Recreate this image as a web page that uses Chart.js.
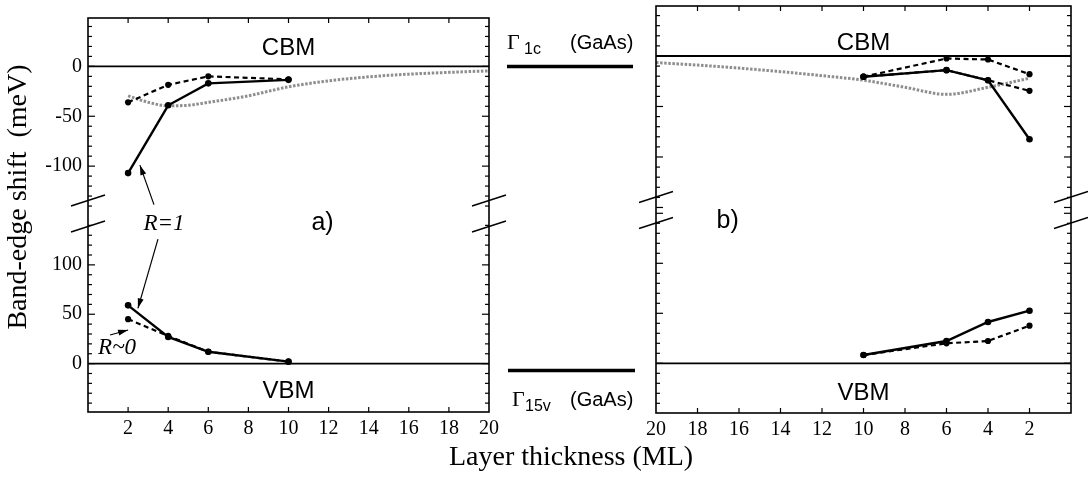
<!DOCTYPE html>
<html><head><meta charset="utf-8">
<script src="https://cdn.jsdelivr.net/npm/chart.js@4.4.1/dist/chart.umd.min.js"></script>
<style>
html,body{margin:0;padding:0;background:#fff;}
#wrap{position:relative;width:1088px;height:477px;overflow:hidden;background:#fff;}
#wrap canvas{position:absolute;left:0;top:0;}
</style></head><body>
<div id="wrap"><canvas id="ca" width="1088" height="477"></canvas><canvas id="cb" width="1088" height="477"></canvas></div>
<script>
// ---------------- data ----------------
const xTicksA = [2,4,6,8,10,12,14,16,18,20];
const xTicksB = [20,18,16,14,12,10,8,6,4,2];
const yTicksCBM = [0,-50,-100];
const yTicksVBM = [100,50,0];
const refX = [0,20];
const refY = [0,0];
// panel a)
const layersA = [2,4,6,10];
const cbmA_R1 = [-107,-39,-17,-13.5];
const cbmA_R0 = [-36,-18.5,-10,-13];
const vbmA_R1 = [59,27,12,2];
const vbmA_R0 = [45,28,12,2];
const grayXA = [2,3,4,5,6,7,8,10,12,14,16,18,20];
const grayA  = [-29.5,-36,-39.5,-39,-36,-33,-29.5,-20.5,-14.5,-10.5,-7.8,-6,-4.5];
// panel b)
const layersB = [10,6,4,2];
const cbmB_R1  = [-20.5,-14,-24,-82.5];
const cbmB_R0  = [-20.5,-2.5,-3.5,-18];
const cbmB_R0b = [-20.5,-14,-24,-34.5];
const vbmB_R1 = [8.3,22.3,41.3,52.6];
const vbmB_R0 = [8.3,20,22.3,37.6];
const grayXB = [20,18,16,14,12,10,8,6,4,2];
const grayB  = [-6.5,-9,-12,-15.5,-19.5,-24,-31,-38,-31,-22];

// ---------------- helpers ----------------
const pts = (xs, ys) => xs.map((x,i)=>({x:x, y:ys[i]}));
const SERIF = '"Liberation Serif", "DejaVu Serif", serif';
const SANS = '"Liberation Sans", Arial, sans-serif';

function solid(xs, ys, yid){ return {data:pts(xs,ys), yAxisID:yid, borderColor:'#000', borderWidth:2.4,
  pointRadius:3.3, pointBackgroundColor:'#000', pointBorderWidth:0, tension:0, fill:false}; }
function dashed(xs, ys, yid){ return {data:pts(xs,ys), yAxisID:yid, borderColor:'#000', borderWidth:2.2, borderDash:[5,3.5],
  pointRadius:3.1, pointBackgroundColor:'#000', pointBorderWidth:0, tension:0, fill:false}; }
function gray(xs, ys, yid){ return {data:pts(xs,ys), yAxisID:yid, borderColor:'#8e8e8e', borderWidth:3, borderDash:[2.5,1.6],
  pointRadius:0, tension:0.4, cubicInterpolationMode:'monotone', fill:false}; }
function ref(yid){ return {data:pts(refX,refY), yAxisID:yid, borderColor:'#000', borderWidth:1.8, pointRadius:0, fill:false}; }

function line(ctx,x1,y1,x2,y2){ ctx.beginPath(); ctx.moveTo(x1,y1); ctx.lineTo(x2,y2); ctx.stroke(); }

const framePlugin = {
  id:'frame',
  afterDatasetsDraw(chart){
    const ctx = chart.ctx, a = chart.chartArea;
    ctx.save();
    ctx.strokeStyle = '#000';
    ctx.lineWidth = 1.6;
    ctx.strokeRect(a.left, a.top, a.right-a.left, a.bottom-a.top);
    ctx.lineWidth = 1.2;
    ['yC','yV'].forEach(id=>{
      const s = chart.scales[id];
      for(let v = Math.ceil(s.min/10)*10; v <= s.max; v += 10){
        const p = s.getPixelForValue(v);
        if(p < s.top+2 || p > s.bottom-2) continue;
        const L = (v % 50 === 0) ? 7 : 4;
        line(ctx, a.left, p, a.left+L, p);
        line(ctx, a.right, p, a.right-L, p);
      }
    });
    const sx = chart.scales.x;
    for(let v = 2; v < 20; v += 2){
      const p = sx.getPixelForValue(v);
      line(ctx, p, a.bottom, p, a.bottom-5);
      line(ctx, p, a.top, p, a.top+5);
    }
    // axis-break slashes
    const yb = chart.scales.yC.bottom;
    ctx.lineWidth = 1.4;
    [a.left, a.right].forEach(xe=>{
      [-13, 13].forEach(d=>{ line(ctx, xe-17, yb+d+5.5, xe+17, yb+d-5.5); });
    });
    ctx.restore();
  }
};

function txt(ctx, s, x, y, font, align, base){
  ctx.font = font; ctx.textAlign = align || 'center'; ctx.textBaseline = base || 'middle';
  ctx.fillText(s, x, y);
}
function arrow(ctx, x1,y1,x2,y2){
  ctx.lineWidth = 1.2;
  line(ctx,x1,y1,x2,y2);
  const ang = Math.atan2(y2-y1, x2-x1), L = 10, W = 3;
  ctx.beginPath();
  ctx.moveTo(x2,y2);
  ctx.lineTo(x2 - L*Math.cos(ang) + W*Math.sin(ang), y2 - L*Math.sin(ang) - W*Math.cos(ang));
  ctx.lineTo(x2 - L*Math.cos(ang) - W*Math.sin(ang), y2 - L*Math.sin(ang) + W*Math.cos(ang));
  ctx.closePath(); ctx.fill();
}

const textA = {
  id:'textA',
  afterDraw(chart){
    const ctx = chart.ctx, a = chart.chartArea, sx = chart.scales.x, yC = chart.scales.yC, yV = chart.scales.yV;
    ctx.save();
    ctx.fillStyle = '#000'; ctx.strokeStyle = '#000';
    // axis titles
    ctx.save(); ctx.translate(19, 197); ctx.rotate(-Math.PI/2);
    txt(ctx, 'Band-edge shift  (meV)', 0, 0, '28px '+SERIF);
    ctx.restore();
    txt(ctx, 'Layer thickness (ML)', 571, 458, '28px '+SERIF);
    // band labels
    txt(ctx, 'CBM', sx.getPixelForValue(10), yC.getPixelForValue(18), '24px '+SANS);
    txt(ctx, 'VBM', sx.getPixelForValue(10), yV.getPixelForValue(-28), '24px '+SANS);
    txt(ctx, 'a)', sx.getPixelForValue(11.7), yV.getPixelForValue(142), '25px '+SANS);
    // R annotations
    txt(ctx, 'R=1', sx.getPixelForValue(3.79), yV.getPixelForValue(141), 'italic 23px '+SERIF);
    txt(ctx, 'R~0', sx.getPixelForValue(1.45), yV.getPixelForValue(16), 'italic 23px '+SERIF);
    arrow(ctx, sx.getPixelForValue(3.29), yC.getPixelForValue(-138.6), sx.getPixelForValue(2.59), yC.getPixelForValue(-99));
    arrow(ctx, sx.getPixelForValue(3.49), yV.getPixelForValue(126), sx.getPixelForValue(2.49), yV.getPixelForValue(56));
    arrow(ctx, sx.getPixelForValue(1.10), yV.getPixelForValue(29), sx.getPixelForValue(2.0), yV.getPixelForValue(34));
    // Gamma reference levels of GaAs
    const gx0 = a.right + 18, gx1 = a.right + 144;
    ctx.lineWidth = 3.5;
    const yc = yC.getPixelForValue(0);
    line(ctx, gx0, yc, gx1, yc);
    const yvL = yV.getPixelForValue(0) + 7;
    line(ctx, gx0+1, yvL, gx1+2, yvL);
    txt(ctx, 'Γ', gx0, 49, '22px '+SERIF, 'left', 'alphabetic');
    txt(ctx, '1c', gx0+17, 54, '16px '+SANS, 'left', 'alphabetic');
    txt(ctx, '(GaAs)', gx0+63, 49, '20px '+SANS, 'left', 'alphabetic');
    txt(ctx, 'Γ', gx0+5, 406, '22px '+SERIF, 'left', 'alphabetic');
    txt(ctx, '15v', gx0+18, 411, '16px '+SANS, 'left', 'alphabetic');
    txt(ctx, '(GaAs)', gx0+63, 406, '20px '+SANS, 'left', 'alphabetic');
    ctx.restore();
  }
};

const textB = {
  id:'textB',
  afterDraw(chart){
    const ctx = chart.ctx, sx = chart.scales.x, yC = chart.scales.yC, yV = chart.scales.yV;
    ctx.save(); ctx.fillStyle = '#000';
    txt(ctx, 'CBM', sx.getPixelForValue(10), yC.getPixelForValue(12), '24px '+SANS);
    txt(ctx, 'VBM', sx.getPixelForValue(10), yV.getPixelForValue(-30), '24px '+SANS);
    txt(ctx, 'b)', sx.getPixelForValue(16.55), yV.getPixelForValue(142), '25px '+SANS);
    ctx.restore();
  }
};

function yScale(min, max, weight, stackWeight, ticksArr, width, showTicks){
  return {
    type:'linear', position:'left', stack:'band', stackWeight:stackWeight, weight:weight,
    min:min, max:max,
    grid:{display:false, drawTicks:false}, border:{display:false},
    ticks:{display:showTicks, padding:6, color:'#000', font:{family:SERIF, size:20}, callback:(v)=>String(v)},
    afterBuildTicks:(s)=>{ s.ticks = ticksArr.map(v=>({value:v})); },
    afterFit:(s)=>{ s.width = width; }
  };
}
function xScale(ticksArr, reverse, height){
  return {
    type:'linear', position:'bottom', min:0, max:20, reverse:reverse,
    grid:{display:false, drawTicks:false}, border:{display:false},
    ticks:{padding:5, color:'#000', font:{family:SERIF, size:20}, autoSkip:false, maxRotation:0, callback:(v)=>String(v)},
    afterBuildTicks:(s)=>{ s.ticks = ticksArr.map(v=>({value:v})); },
    afterFit:(s)=>{ s.height = height; }
  };
}
const common = {
  responsive:false, animation:false, devicePixelRatio:1,
  plugins:{legend:{display:false}, tooltip:{enabled:false}},
  elements:{line:{capBezierPoints:true}}
};

new Chart(document.getElementById('ca'), {
  type:'line',
  data:{datasets:[
    solid(layersA, cbmA_R1, 'yC'),
    dashed(layersA, cbmA_R0, 'yC'),
    solid(layersA, vbmA_R1, 'yV'),
    dashed(layersA, vbmA_R0, 'yV'),
    gray(grayXA, grayA, 'yC'),
    ref('yC'), ref('yV')
  ]},
  options:Object.assign({}, common, {
    layout:{padding:{left:0, right:599, top:13, bottom:0}},
    scales:{
      x: xScale(xTicksA, false, 65),
      yC: yScale(-147.5, 48.5, 2, 198, yTicksCBM, 88, true),
      yV: yScale(-49, 152, 1, 201, yTicksVBM, 88, true)
    }
  }),
  plugins:[framePlugin, textA]
});

new Chart(document.getElementById('cb'), {
  type:'line',
  data:{datasets:[
    solid(layersB, cbmB_R1, 'yC'),
    dashed(layersB, cbmB_R0, 'yC'),
    dashed(layersB, cbmB_R0b, 'yC'),
    solid(layersB, vbmB_R1, 'yV'),
    dashed(layersB, vbmB_R0, 'yV'),
    gray(grayXB, grayB, 'yC'),
    ref('yC'), ref('yV')
  ]},
  options:Object.assign({}, common, {
    layout:{padding:{left:656, right:17, top:6, bottom:0}},
    scales:{
      x: xScale(xTicksB, true, 64),
      yC: yScale(-152.5, 49.5, 2, 204, [], 0, false),
      yV: yScale(-49.7, 153.3, 1, 203, [], 0, false)
    }
  }),
  plugins:[framePlugin, textB]
});
</script>
</body></html>
